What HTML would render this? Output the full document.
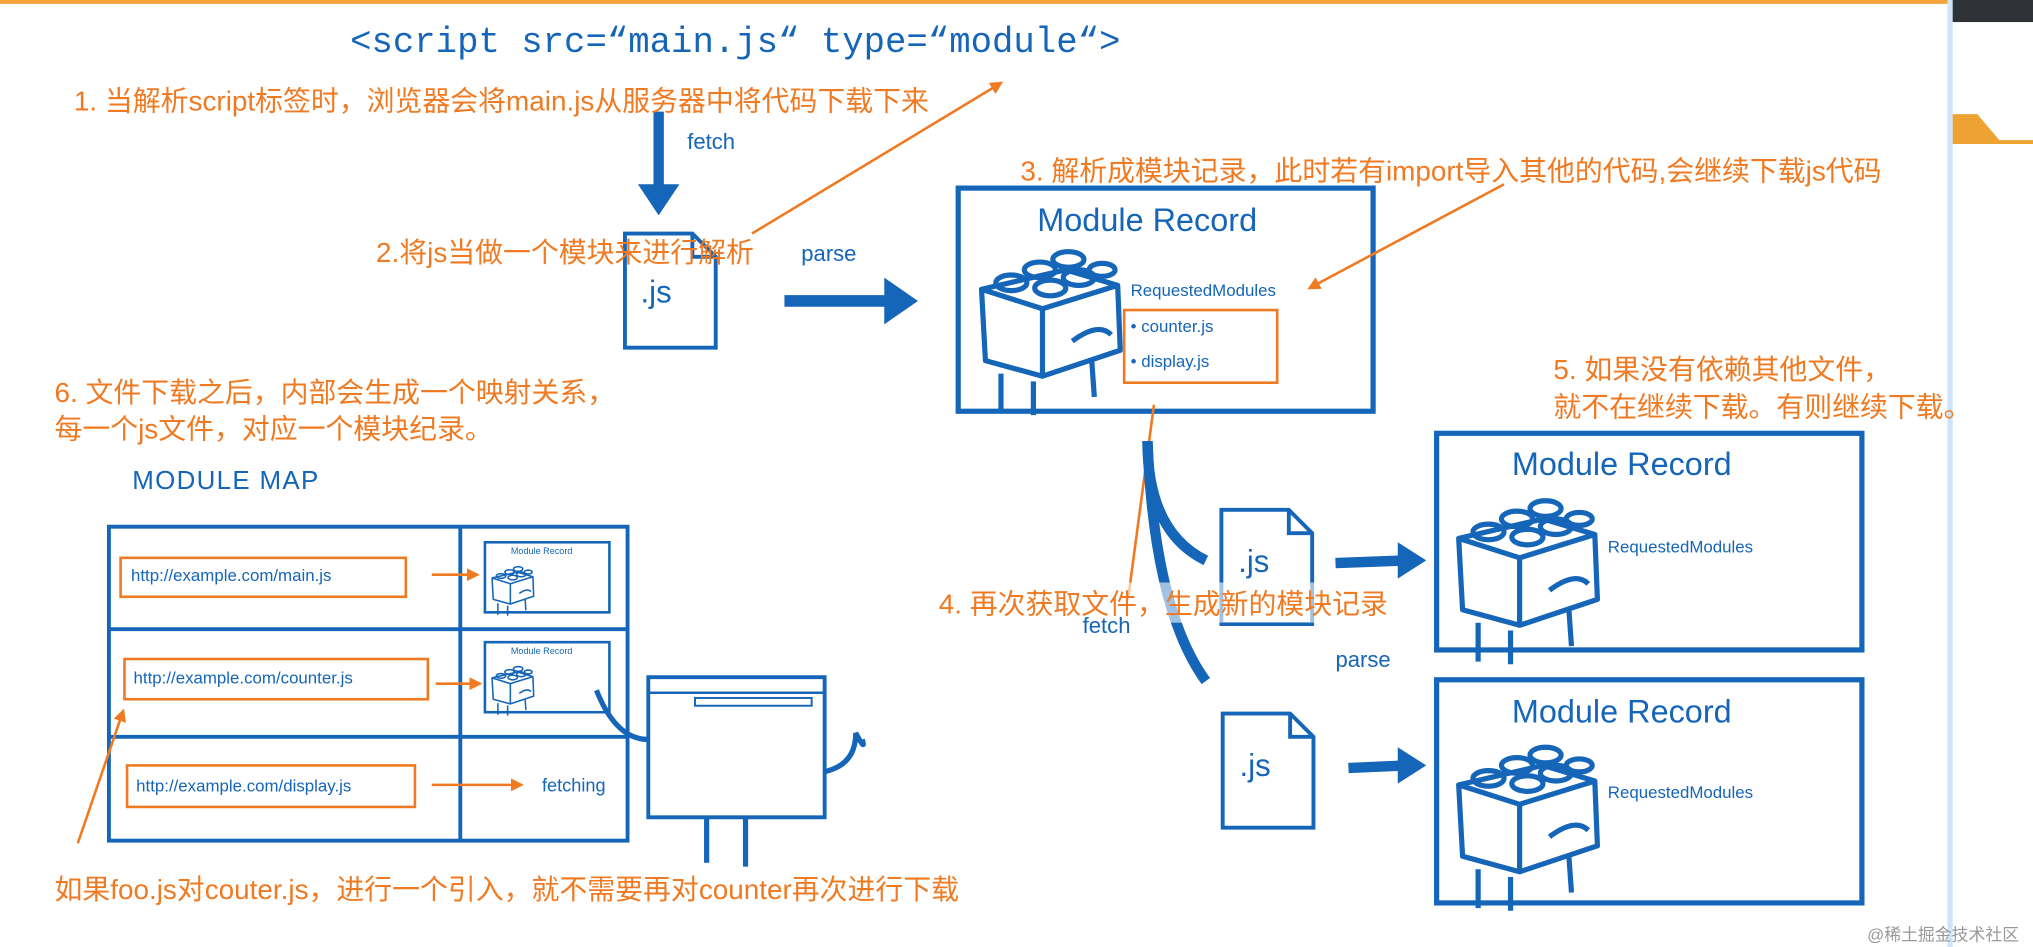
<!DOCTYPE html>
<html><head><meta charset="utf-8"><style>
html,body{margin:0;padding:0;background:#fff;overflow:hidden}
#w{width:1568px;height:730px;position:relative;transform:scale(1.2966,1.2973);transform-origin:0 0}
.t{position:absolute;white-space:nowrap;font-family:"Liberation Sans","Noto Sans CJK SC",sans-serif}
.o{color:#f07a22;font-size:21.5px}
.b{color:#1565b8}
svg{position:absolute;left:0;top:0}
</style></head><body><div id="w">
<svg width="1568" height="730" viewBox="0 0 1568 730">
<defs>
<marker id="oa" markerWidth="10" markerHeight="10" refX="8" refY="5" orient="auto" markerUnits="userSpaceOnUse"><path d="M0,0 L10,5 L0,10 z" fill="#f07a22"/></marker>
<g id="lego" fill="none" stroke="#1565b8" stroke-width="4" stroke-linejoin="round">
<path d="M5,45 L70,30 L110,42 L112,92 L52,112 L8,100 Z M5,45 L52,60 L110,42 M52,60 L52,112"/>
<path d="M20,110 L20,140 M45,116 L45,142 M90,100 L92,128 M75,85 Q95,70 105,80"/>
<ellipse cx="28" cy="40" rx="12" ry="6"/><ellipse cx="50" cy="30" rx="12" ry="6"/><ellipse cx="72" cy="22" rx="12" ry="6"/>
<ellipse cx="58" cy="44" rx="12" ry="6"/><ellipse cx="80" cy="36" rx="12" ry="6"/><ellipse cx="98" cy="30" rx="10" ry="5"/>
</g>
<g id="file" fill="none" stroke="#1565b8" stroke-width="3"><path d="M0,0 L52,0 L70,18 L70,88 L0,88 Z M52,0 L52,18 L70,18"/></g>
</defs>
<line x1="0" y1="1.5" x2="1502" y2="1.5" stroke="#f4a33a" stroke-width="3"/>
<rect x="1502" y="0" width="4" height="730" fill="#cfe3fb"/>
<rect x="1506" y="0" width="62" height="17" fill="#2f3237"/>
<path d="M1506,88 L1525,88 L1542,108 L1568,108 L1568,111 L1506,111 Z" fill="#eea232"/>
<path d="M508,86 L508,150" stroke="#1565b8" stroke-width="8"/>
<path d="M492,142 L508,166 L524,142 Z" fill="#1565b8"/>
<use href="#file" x="482" y="180"/>
<path d="M605,232 L690,232" stroke="#1565b8" stroke-width="9"/>
<path d="M682,214 L708,232 L682,250 Z" fill="#1565b8"/>
<rect x="739" y="145" width="320" height="172" fill="none" stroke="#1565b8" stroke-width="4"/>
<use href="#lego" x="752" y="178"/>
<rect x="867" y="239" width="118" height="56" fill="none" stroke="#f07a22" stroke-width="2"/>
<line x1="580" y1="180" x2="772" y2="64" stroke="#f07a22" stroke-width="2" marker-end="url(#oa)"/>
<line x1="1160" y1="142" x2="1010" y2="222" stroke="#f07a22" stroke-width="2" marker-end="url(#oa)"/>
<line x1="890" y1="312" x2="870" y2="462" stroke="#f07a22" stroke-width="2"/>
<path d="M885,340 Q885,410 930,432" fill="none" stroke="#1565b8" stroke-width="8"/>
<path d="M885,340 Q890,470 930,525" fill="none" stroke="#1565b8" stroke-width="8"/>
<use href="#file" x="942" y="393"/>
<use href="#file" x="943" y="550"/>
<path d="M1030,434 L1085,432" stroke="#1565b8" stroke-width="8"/><path d="M1078,418 L1100,432 L1078,446 Z" fill="#1565b8"/>
<path d="M1040,592 L1085,590" stroke="#1565b8" stroke-width="8"/><path d="M1078,576 L1100,590 L1078,604 Z" fill="#1565b8"/>
<rect x="1108" y="334" width="328" height="167" fill="none" stroke="#1565b8" stroke-width="4"/>
<rect x="1108" y="524" width="328" height="172" fill="none" stroke="#1565b8" stroke-width="4"/>
<use href="#lego" x="1120" y="370"/>
<use href="#lego" x="1120" y="560"/>
<rect x="84" y="406" width="400" height="242" fill="none" stroke="#1565b8" stroke-width="3"/>
<line x1="355" y1="406" x2="355" y2="648" stroke="#1565b8" stroke-width="3"/>
<line x1="84" y1="485" x2="484" y2="485" stroke="#1565b8" stroke-width="3"/>
<line x1="84" y1="568" x2="484" y2="568" stroke="#1565b8" stroke-width="3"/>
<rect x="93" y="430" width="220" height="30" fill="none" stroke="#f07a22" stroke-width="2"/>
<rect x="96" y="508" width="234" height="31" fill="none" stroke="#f07a22" stroke-width="2"/>
<rect x="98" y="590" width="222" height="32" fill="none" stroke="#f07a22" stroke-width="2"/>
<line x1="333" y1="443" x2="368" y2="443" stroke="#f07a22" stroke-width="2" marker-end="url(#oa)"/>
<line x1="336" y1="527" x2="370" y2="527" stroke="#f07a22" stroke-width="2" marker-end="url(#oa)"/>
<line x1="333" y1="605" x2="402" y2="605" stroke="#f07a22" stroke-width="2" marker-end="url(#oa)"/>
<rect x="374" y="418" width="96" height="54" fill="none" stroke="#1565b8" stroke-width="2"/>
<rect x="374" y="495" width="96" height="54" fill="none" stroke="#1565b8" stroke-width="2"/>
<use href="#lego" transform="translate(378,432) scale(0.3)"/>
<use href="#lego" transform="translate(378,509) scale(0.3)"/>
<path d="M460,532 Q475,570 500,570" fill="none" stroke="#1565b8" stroke-width="4"/>
<path d="M635,595 Q660,590 660,565 Q668,580 665,570" fill="none" stroke="#1565b8" stroke-width="4"/>
<rect x="500" y="522" width="136" height="108" fill="#fff" stroke="#1565b8" stroke-width="3"/>
<line x1="500" y1="534" x2="636" y2="534" stroke="#1565b8" stroke-width="2"/>
<rect x="536" y="538" width="90" height="6" fill="none" stroke="#1565b8" stroke-width="1.5"/>
<path d="M545,630 L545,665 M575,630 L575,668" stroke="#1565b8" stroke-width="4"/>
<line x1="60" y1="650" x2="95" y2="548" stroke="#f07a22" stroke-width="2" marker-end="url(#oa)"/>
</svg>
<div class="t b" style="left:270px;top:18px;font-family:'Liberation Mono',monospace;font-size:27.5px">&lt;script src=“main.js“ type=“module“&gt;</div>
<div class="t o" style="left:57px;top:61px">1. 当解析script标签时，浏览器会将main.js从服务器中将代码下载下来</div>
<div class="t b" style="left:530px;top:100px;font-size:17px">fetch</div>
<div class="t o" style="left:290px;top:178px">2.将js当做一个模块来进行解析</div>
<div class="t b" style="left:494px;top:212px;font-size:24px">.js</div>
<div class="t b" style="left:618px;top:186px;font-size:17px">parse</div>
<div class="t o" style="left:787px;top:115px">3. 解析成模块记录，此时若有import导入其他的代码,会继续下载js代码</div>
<div class="t b" style="left:800px;top:156px;font-size:25px">Module Record</div>
<div class="t b" style="left:872px;top:216px;font-size:13px">RequestedModules</div>
<div class="t b" style="left:872px;top:244px;font-size:13px">• counter.js</div>
<div class="t b" style="left:872px;top:271px;font-size:13px">• display.js</div>
<div class="t o" style="left:42px;top:286px">6. 文件下载之后，内部会生成一个映射关系，</div>
<div class="t o" style="left:42px;top:314px">每一个js文件，对应一个模块纪录。</div>
<div class="t o" style="left:1198px;top:268px">5. 如果没有依赖其他文件，</div>
<div class="t o" style="left:1198px;top:297px">就不在继续下载。有则继续下载。</div>
<div class="t b" style="left:102px;top:360px;font-size:20px;letter-spacing:1px">MODULE MAP</div>
<div class="t b" style="left:101px;top:436px;font-size:13px">http://example.com/main.js</div>
<div class="t b" style="left:103px;top:515px;font-size:13px">http://example.com/counter.js</div>
<div class="t b" style="left:105px;top:598px;font-size:13px">http://example.com/display.js</div>
<div class="t b" style="left:394px;top:422px;font-size:7px">Module Record</div>
<div class="t b" style="left:394px;top:499px;font-size:7px">Module Record</div>
<div class="t b" style="left:418px;top:597px;font-size:14px">fetching</div>
<div class="t o" style="left:724px;top:449px;background:rgba(255,255,255,0.6)">4. 再次获取文件，生成新的模块记录</div>
<div class="t b" style="left:835px;top:473px;font-size:17px">fetch</div>
<div class="t b" style="left:1030px;top:499px;font-size:17px">parse</div>
<div class="t b" style="left:955px;top:420px;font-size:24px">.js</div>
<div class="t b" style="left:956px;top:577px;font-size:24px">.js</div>
<div class="t b" style="left:1166px;top:344px;font-size:25px">Module Record</div>
<div class="t b" style="left:1166px;top:535px;font-size:25px">Module Record</div>
<div class="t b" style="left:1240px;top:414px;font-size:13px">RequestedModules</div>
<div class="t b" style="left:1240px;top:603px;font-size:13px">RequestedModules</div>
<div class="t o" style="left:42px;top:669px">如果foo.js对couter.js，进行一个引入，就不需要再对counter再次进行下载</div>
<div class="t" style="left:1440px;top:710px;font-size:13px;color:#999">@稀土掘金技术社区</div>
</div></body></html>
